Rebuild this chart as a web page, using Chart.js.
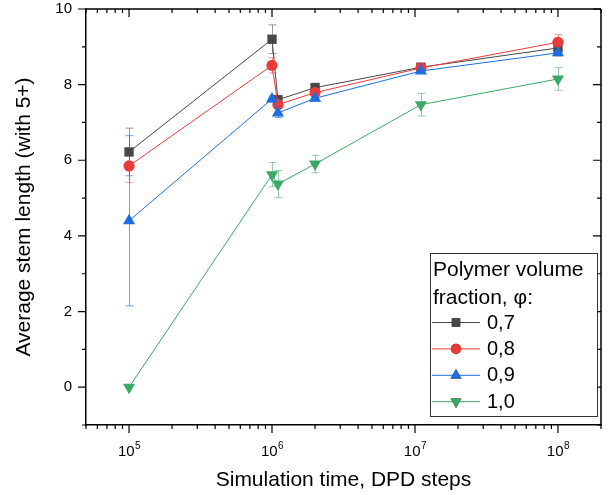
<!DOCTYPE html>
<html>
<head>
<meta charset="utf-8">
<script src="https://cdn.jsdelivr.net/npm/chart.js@4.4.1/dist/chart.umd.min.js"></script>
<style>
  html, body { margin: 0; padding: 0; background: #fff; }
  canvas { display: block; }
</style>
</head>
<body>
<canvas id="stemChart" width="611" height="495"></canvas>
<script>
// data
const steps = [1e5, 1e6, 1.1e6, 2e6, 1.1e7, 1e8];
const phi07 = [6.22, 9.20, 7.60, 7.92, 8.46, 8.97];
const phi08 = [5.85, 8.51, 7.47, 7.79, 8.44, 9.12];
const phi09 = [4.40, 7.62, 7.25, 7.64, 8.36, 8.84];
const phi10 = [0.00, 5.62, 5.37, 5.90, 7.47, 8.15];
const err07 = [0.63, 0.38, 0.10, 0.12, 0.06, 0.10];
const err08 = [0.44, 0.20, 0.10, 0.08, 0.06, 0.20];
const err09 = [2.25, 0.08, 0.12, 0.08, 0.06, 0.08];
const err10 = [0.00, 0.32, 0.36, 0.23, 0.30, 0.30];
const seriesNames = ['0,7', '0,8', '0,9', '1,0'];
const xTickValues = [1e5, 1e6, 1e7, 1e8];
const xTickExp = ['5', '6', '7', '8'];
const yTickValues = [0, 2, 4, 6, 8, 10];

const FONT = "'Liberation Sans', Arial, sans-serif";
const colors = ['#474747', '#ec3a3a', '#1c6ee0', '#3aa866'];
const errColors = ['rgba(71,71,71,0.55)', 'rgba(236,58,58,0.5)', 'rgba(28,110,224,0.65)', 'rgba(58,168,102,0.55)'];
const values = [phi07, phi08, phi09, phi10];
const errors = [err07, err08, err09, err10];
const styles = [
    { pointStyle: 'rect', radius: 6.6, rotation: 0 },
    { pointStyle: 'circle', radius: 5.6, rotation: 0 },
    { pointStyle: 'triangle', radius: 7, rotation: 0 },
    { pointStyle: 'triangle', radius: 7, rotation: 180 }
];

const datasets = values.map((vals, i) => ({
    label: seriesNames[i],
    data: steps.map((x, j) => ({ x: x, y: vals[j] })),
    borderColor: colors[i],
    backgroundColor: colors[i],
    borderWidth: 1,
    pointStyle: styles[i].pointStyle,
    pointRadius: styles[i].radius,
    pointRotation: styles[i].rotation,
    pointBorderWidth: 0,
    pointBackgroundColor: colors[i],
    order: 3 - i
}));

// error bars, drawn under the markers
const errorBars = {
    id: 'errorBars',
    beforeDatasetsDraw(chart) {
        const ctx = chart.ctx, xs = chart.scales.x, ys = chart.scales.y;
        ctx.save();
        ctx.lineWidth = 1;
        errors.forEach((errs, i) => {
            ctx.strokeStyle = errColors[i];
            errs.forEach((e, j) => {
                if (!e) return;
                const px = Math.round(xs.getPixelForValue(steps[j])) + 0.5;
                const top = ys.getPixelForValue(values[i][j] + e);
                const bot = ys.getPixelForValue(values[i][j] - e);
                ctx.beginPath();
                ctx.moveTo(px, top); ctx.lineTo(px, bot);
                ctx.moveTo(px - 4, top); ctx.lineTo(px + 4, top);
                ctx.moveTo(px - 4, bot); ctx.lineTo(px + 4, bot);
                ctx.stroke();
            });
        });
        ctx.restore();
    }
};

// frame, tick marks (major/minor, mirrored inside on top/right) and 10^n labels
const frameTicks = {
    id: 'frameTicks',
    afterDraw(chart) {
        const ctx = chart.ctx, xs = chart.scales.x, ys = chart.scales.y;
        const a = chart.chartArea;
        ctx.save();
        ctx.strokeStyle = '#000';
        ctx.lineWidth = 1.5;
        ctx.beginPath();
        ctx.moveTo(a.left, a.top); ctx.lineTo(a.right, a.top);
        ctx.moveTo(a.right, a.top); ctx.lineTo(a.right, a.bottom);
        ctx.stroke();

        ctx.lineWidth = 1.2;
        ctx.beginPath();
        for (let k = 4; k <= 8; k++) {
            for (let m = 1; m <= 9; m++) {
                const v = m * Math.pow(10, k);
                if (v < xs.min || v > xs.max) continue;
                const len = m === 1 ? 8 : 4;
                const px = xs.getPixelForValue(v);
                ctx.moveTo(px, a.bottom); ctx.lineTo(px, a.bottom + len);
                ctx.moveTo(px, a.top); ctx.lineTo(px, a.top + len);
            }
        }
        for (let v = -1; v <= 10; v++) {
            const len = v % 2 === 0 ? 8 : 4;
            const py = ys.getPixelForValue(v);
            ctx.moveTo(a.left, py); ctx.lineTo(a.left - len, py);
            ctx.moveTo(a.right, py); ctx.lineTo(a.right - len, py);
        }
        ctx.stroke();

        ctx.fillStyle = '#000';
        ctx.textBaseline = 'alphabetic';
        xTickValues.forEach((v, i) => {
            const px = xs.getPixelForValue(v);
            ctx.font = '15px ' + FONT;
            const w1 = ctx.measureText('10').width;
            ctx.font = '10px ' + FONT;
            const w2 = ctx.measureText(xTickExp[i]).width;
            const x0 = px - (w1 + w2) / 2;
            ctx.font = '15px ' + FONT;
            ctx.textAlign = 'left';
            ctx.fillText('10', x0, a.bottom + 31);
            ctx.font = '10px ' + FONT;
            ctx.fillText(xTickExp[i], x0 + w1 + 0.5, a.bottom + 24);
        });
        ctx.restore();
    }
};

// boxed legend inside the plot, like the original
const boxLegend = {
    id: 'boxLegend',
    afterDraw(chart) {
        const ctx = chart.ctx;
        const bx = 430, by = 253, bw = 167, bh = 163;
        ctx.save();
        ctx.fillStyle = '#fff';
        ctx.fillRect(bx, by, bw, bh);
        ctx.strokeStyle = '#333';
        ctx.lineWidth = 1;
        ctx.strokeRect(bx + 0.5, by + 0.5, bw, bh);

        ctx.fillStyle = '#000';
        ctx.textAlign = 'left';
        ctx.textBaseline = 'middle';
        ctx.font = '21px ' + FONT;
        ctx.fillText('Polymer volume', 433, 270);
        ctx.fillText('fraction, \u03c6:', 433, 298);

        chart.data.datasets.forEach((ds, i) => {
            const y = 322 + i * 26.4;
            ctx.strokeStyle = ds.borderColor;
            ctx.lineWidth = 1;
            ctx.beginPath();
            ctx.moveTo(432, y + 0.5); ctx.lineTo(480, y + 0.5);
            ctx.stroke();
            Chart.helpers.drawPoint(ctx, {
                pointStyle: ds.pointStyle,
                radius: ds.pointRadius * 0.9,
                rotation: ds.pointRotation,
                borderWidth: 0
            }, 456, y + 0.5);
            ctx.fillStyle = ds.borderColor;
            ctx.fill();
            ctx.fillStyle = '#000';
            ctx.font = '20px ' + FONT;
            ctx.fillText(ds.label, 487, y + 1);
        });
        ctx.restore();
    }
};

new Chart(document.getElementById('stemChart'), {
    type: 'line',
    data: { datasets: datasets },
    options: {
        responsive: false,
        animation: false,
        devicePixelRatio: 1,
        layout: { padding: { top: 9, right: 10, left: 0, bottom: 0 } },
        plugins: { legend: { display: false }, tooltip: { enabled: false } },
        scales: {
            x: {
                type: 'logarithmic',
                min: 5e4,
                max: 2e8,
                grid: { display: false },
                border: { display: true, color: '#000', width: 1.5 },
                ticks: { display: false, autoSkip: false },
                afterBuildTicks: (scale) => { scale.ticks = xTickValues.map(v => ({ value: v })); },
                afterFit: (scale) => {
                    scale.height = 70;
                    scale.paddingLeft = 0;
                    scale.paddingRight = 0;
                },
                title: {
                    display: true,
                    text: 'Simulation time, DPD steps',
                    color: '#000',
                    font: { family: FONT, size: 21 },
                    padding: { top: 0, bottom: 2 }
                }
            },
            y: {
                type: 'linear',
                min: -1,
                max: 10,
                grid: { display: false },
                border: { display: true, color: '#000', width: 1.5 },
                afterBuildTicks: (scale) => { scale.ticks = yTickValues.map(v => ({ value: v })); },
                afterFit: (scale) => {
                    scale.width = 86;
                    scale.paddingTop = 0;
                    scale.paddingBottom = 0;
                },
                ticks: {
                    color: '#000',
                    padding: 6,
                    font: { family: FONT, size: 15 },
                    callback: (v) => String(v)
                },
                title: {
                    display: true,
                    text: 'Average stem length (with 5+)',
                    color: '#000',
                    font: { family: FONT, size: 21 },
                    padding: { top: 12, bottom: 0 }
                }
            }
        }
    },
    plugins: [errorBars, frameTicks, boxLegend]
});
</script>
</body>
</html>
